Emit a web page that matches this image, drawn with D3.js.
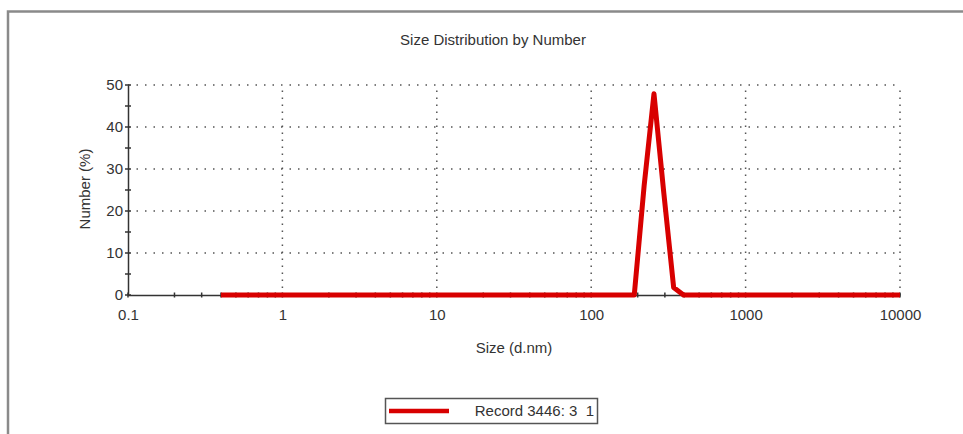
<!DOCTYPE html>
<html><head><meta charset="utf-8">
<script src="https://cdn.jsdelivr.net/npm/d3@7"></script>
<style>body{margin:0;background:#fff}svg{display:block}text{font-family:"Liberation Sans",Arial,sans-serif;fill:#333;white-space:pre}</style>
</head><body><svg id="c" width="963" height="434"></svg>
<script>
const title = "Size Distribution by Number";
const xTitle = "Size (d.nm)";
const yTitle = "Number (%)";
const legendLabel = "Record 3446: 3  1";
const xTickValues = [0.1, 1, 10, 100, 1000, 10000];
const xTickLabels = ["0.1", "1", "10", "100", "1000", "10000"];
const yTickValues = [0, 10, 20, 30, 40, 50];
const sizes = [0.4,0.4632,0.5365,0.6213,0.7195,0.8332,0.9649,1.117,1.294,1.499,1.736,2.010,2.328,2.696,3.122,3.615,4.187,4.849,5.615,6.503,7.531,8.721,10.10,11.70,13.54,15.69,18.17,21.04,24.36,28.21,32.67,37.84,43.82,50.75,58.77,68.06,78.82,91.28,105.7,122.4,141.8,164.2,190.1,220.2,255.0,295.3,342.0,396.1,458.7,531.2,615.1,712.4,825.0,955.4,1106,1281,1484,1718,1990,2305,2669,3091,3580,4145,4801,5560,6439,7456,8635,10000];
const numbers = [0,0,0,0,0,0,0,0,0,0,0,0,0,0,0,0,0,0,0,0,0,0,0,0,0,0,0,0,0,0,0,0,0,0,0,0,0,0,0,0,0,0,0,26.0,47.9,24.3,1.8,0,0,0,0,0,0,0,0,0,0,0,0,0,0,0,0,0,0,0,0,0,0,0];

const svg = d3.select("#c");
const x = d3.scaleLog().domain([0.1, 10000]).range([128, 900]);
const y = d3.scaleLinear().domain([0, 50]).range([295, 85]);

// outer frame
svg.append("path").attr("d", "M8,434V11.5H963").attr("fill","none").attr("stroke","#8a8a8a").attr("stroke-width",2.5);

// grid
const g = svg.append("g");
g.selectAll(".hg").data(yTickValues.filter(d=>d>0)).join("line")
  .attr("x1", x(0.1)).attr("x2", x(10000)).attr("y1", d=>y(d)).attr("y2", d=>y(d))
  .attr("stroke","#555").attr("stroke-width",1.5).attr("stroke-dasharray","1.5,7");
g.selectAll(".vg").data(xTickValues.filter(d=>d>0.1)).join("line")
  .attr("x1", d=>x(d)).attr("x2", d=>x(d)).attr("y1", y(0)).attr("y2", y(50))
  .attr("stroke","#555").attr("stroke-width",1.5).attr("stroke-dasharray","1.5,5.5");

// axes
const xAxis = d3.axisBottom(x).tickValues(xTickValues).tickFormat((d,i)=>xTickLabels[i]).tickSize(0).tickPadding(14);
const ax = svg.append("g").attr("transform",`translate(0,${y(0)})`).call(xAxis);
ax.select(".domain").attr("stroke","#333").attr("stroke-width",1.5);
ax.selectAll("text").attr("font-size",15).attr("fill","#333");
const minorX = [];
xTickValues.forEach(v=>{ if(v<10000) for(let k=1;k<10;k++) minorX.push(v*k); });
minorX.push(10000);
svg.append("g").selectAll("line").data(minorX).join("line")
  .attr("x1",d=>x(d)).attr("x2",d=>x(d)).attr("y1",y(0)-2.5).attr("y2",y(0)+2.5)
  .attr("stroke","#333").attr("stroke-width",1.5);

const yAxis = d3.axisLeft(y).tickValues(yTickValues).tickSize(0).tickPadding(5);
const ay = svg.append("g").attr("transform",`translate(${x(0.1)},0)`).call(yAxis);
ay.select(".domain").attr("stroke","#333").attr("stroke-width",1.5);
ay.selectAll("text").attr("font-size",15).attr("fill","#333");
svg.append("g").selectAll("line").data(d3.range(0,51,5)).join("line")
  .attr("x1",x(0.1)-3).attr("x2",x(0.1)+3).attr("y1",d=>y(d)).attr("y2",d=>y(d))
  .attr("stroke","#333").attr("stroke-width",1.5);

// series
const line = d3.line().x((d,i)=>x(sizes[i])).y(d=>y(d));
svg.append("path").datum(numbers).attr("d", line).attr("fill","none")
  .attr("stroke","#d80000").attr("stroke-width",5).attr("stroke-linejoin","round");

// titles
svg.append("text").attr("x",493).attr("y",40).attr("dy","0.35em").attr("text-anchor","middle").attr("font-size",15).text(title);
svg.append("text").attr("x",514).attr("y",348).attr("dy","0.35em").attr("text-anchor","middle").attr("font-size",15).text(xTitle);
svg.append("text").attr("transform","translate(85,189) rotate(-90)").attr("dy","0.35em").attr("text-anchor","middle").attr("font-size",15).text(yTitle);

// legend
const lg = svg.append("g");
lg.append("rect").attr("x",385.5).attr("y",398.5).attr("width",212).attr("height",25).attr("fill","#fff").attr("stroke","#555").attr("stroke-width",1.5);
lg.append("line").attr("x1",389).attr("x2",449).attr("y1",411).attr("y2",411).attr("stroke","#d80000").attr("stroke-width",4.5);
lg.append("text").attr("x",594).attr("y",411).attr("dy","0.35em").attr("text-anchor","end").attr("font-size",15).attr("xml:space","preserve").text(legendLabel);
</script></body></html>
